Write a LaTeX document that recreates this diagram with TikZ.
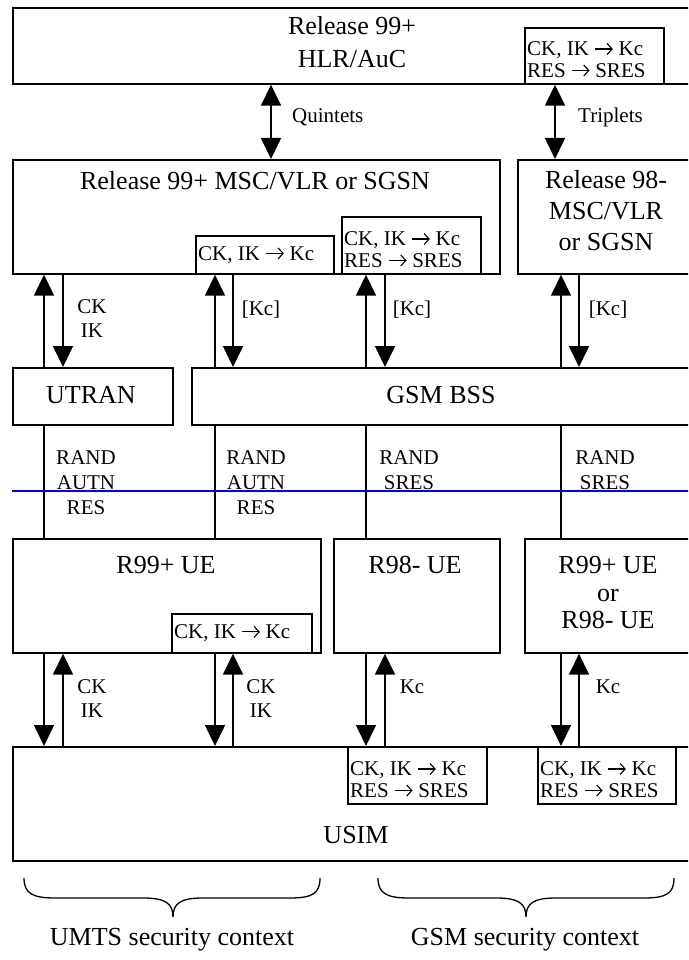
\documentclass[tikz,border=0pt]{standalone}
\usepackage{fontspec}
\setmainfont{Liberation Serif}
\usetikzlibrary{arrows.meta}
\newcommand\rar{\ \tikz[baseline=0pt]\draw[line width=1.1pt,-{Straight Barb[length=5pt,width=11pt,line width=1.1pt]}] (0pt,6.8pt) -- (18pt,6.8pt);\ }
\begin{document}
\begin{tikzpicture}[x=1pt,y=-1pt,
  box/.style={draw, line width=1.7pt, rectangle, inner sep=0pt, anchor=north west},
  kbox/.style={draw, line width=1.7pt, fill=white, rectangle, inner sep=0pt, anchor=north west},
  ktext/.style={font=\fontsize{21}{21.5}\selectfont, align=left, inner sep=0pt},
  big/.style={font=\fontsize{26}{31}\selectfont, align=center, inner sep=0pt},
  lab/.style={font=\fontsize{21}{24}\selectfont, align=center, inner sep=0pt},
  conn/.style={line width=1.6pt},
  arr/.style={conn, -{Triangle[length=21pt,width=20pt]}},
  darr/.style={conn, {Triangle[length=21pt,width=20pt]}-{Triangle[length=21pt,width=20pt]}},
  bracestyle/.style={line width=1.3pt},
]
\useasboundingbox (0,0) rectangle (688,960);
\clip (0,0) rectangle (688,960);

% ---- HLR ----
\node[box, minimum width=683pt, minimum height=76pt] (hlr) at (12,7) {};
\node[big, font=\fontsize{26}{33}\selectfont] (hlrt) at (352,42) {Release 99+\\HLR/AuC};
\node[kbox, minimum width=139pt, minimum height=56pt] (hlrk) at (524,27) {};
\node[ktext, anchor=south west] (hlrkt) at ([shift={(3,-7)}]hlrk.south west) {CK, IK\rar Kc\\RES\rar SRES};

% ---- serving nodes ----
\node[box, minimum width=487pt, minimum height=114pt] (msc) at (12,159) {};
\node[big] (msct) at (255,181) {Release 99+ MSC/VLR or SGSN};
\node[kbox, minimum width=138pt, minimum height=38pt] (msck1) at (195,235) {};
\node[ktext, anchor=west] (msck1t) at ([xshift=3]msck1.west) {CK, IK\rar Kc};
\node[kbox, minimum width=139pt, minimum height=57pt] (msck2) at (341,216) {};
\node[ktext, anchor=south west] (msck2t) at ([shift={(3,-7)}]msck2.south west) {CK, IK\rar Kc\\RES\rar SRES};

\node[box, minimum width=178pt, minimum height=114pt] (msc98) at (517,159) {};
\node[big] (msc98t) at (606,211) {Release 98-\\MSC/VLR\\or SGSN};

% ---- access ----
\node[box, minimum width=160pt, minimum height=57pt] (utran) at (12,367) {};
\node[big] (utrant) at (91,395) {UTRAN};
\node[box, minimum width=504pt, minimum height=57pt] (bss) at (191,367) {};
\node[big] (bsst) at (441,395) {GSM BSS};

% ---- UEs ----
\node[box, minimum width=308pt, minimum height=114pt] (ue) at (12,538) {};
\node[big] (uet) at (166,565) {R99+ UE};
\node[kbox, minimum width=140pt, minimum height=39pt] (uek) at (171,613) {};
\node[ktext, anchor=west] (uekt) at ([xshift=3]uek.west) {CK, IK\rar Kc};
\node[box, minimum width=166pt, minimum height=114pt] (ue98) at (333,538) {};
\node[big] (ue98t) at (415,565) {R98- UE};
\node[box, minimum width=171pt, minimum height=114pt] (ue3) at (524,538) {};
\node[big, font=\fontsize{26}{27.5}\selectfont] (ue3t) at (608,593) {R99+ UE\\or\\R98- UE};

% ---- USIM ----
\node[box, minimum width=683pt, minimum height=114pt] (usim) at (12,746) {};
\node[big] (usimt) at (356,835) {USIM};
\node[kbox, minimum width=139pt, minimum height=57pt] (usimk1) at (347,746) {};
\node[ktext, anchor=south west] (usimk1t) at ([shift={(3,-7)}]usimk1.south west) {CK, IK\rar Kc\\RES\rar SRES};
\node[kbox, minimum width=138pt, minimum height=57pt] (usimk2) at (537,746) {};
\node[ktext, anchor=south west] (usimk2t) at ([shift={(3,-7)}]usimk2.south west) {CK, IK\rar Kc\\RES\rar SRES};

% ---- columns ----
\coordinate (q) at (271,0);
\coordinate (t) at (555,0);
\coordinate (c1) at (44,0);  \coordinate (c1b) at (63,0);
\coordinate (c2) at (215,0); \coordinate (c2b) at (233,0);
\coordinate (c3) at (366,0); \coordinate (c3b) at (385,0);
\coordinate (c4) at (561,0); \coordinate (c4b) at (579,0);

% ---- HLR <-> serving nodes ----
\draw[darr] (hlr.south -| q) -- (msc.north -| q);
\draw[darr] (hlrk.south -| t) -- (msc98.north -| t);
\node[lab, anchor=west] (quint) at (292,117) {Quintets};
\node[lab, anchor=west] (trip) at (578,117) {Triplets};

% ---- serving nodes <-> access ----
\draw[arr] (utran.north -| c1) -- (msc.south -| c1);
\draw[arr] (msc.south -| c1b) -- (utran.north -| c1b);
\draw[arr] (bss.north -| c2) -- (msck1.south -| c2);
\draw[arr] (msck1.south -| c2b) -- (bss.north -| c2b);
\draw[arr] (bss.north -| c3) -- (msck2.south -| c3);
\draw[arr] (msck2.south -| c3b) -- (bss.north -| c3b);
\draw[arr] (bss.north -| c4) -- (msc98.south -| c4);
\draw[arr] (msc98.south -| c4b) -- (bss.north -| c4b);
\node[lab] (l1) at (92,319) {CK\\IK};
\node[lab] (l2) at (261,310) {[Kc]};
\node[lab] (l3) at (412,310) {[Kc]};
\node[lab] (l4) at (608,310) {[Kc]};

% ---- access <-> UE ----
\draw[conn] (utran.south -| c1) -- (ue.north -| c1);
\draw[conn] (bss.south -| c2) -- (ue.north -| c2);
\draw[conn] (bss.south -| c3) -- (ue98.north -| c3);
\draw[conn] (bss.south -| c4) -- (ue3.north -| c4);
\node[lab, font=\fontsize{21}{25}\selectfont] (r1) at (86,483) {RAND\\AUTN\\RES};
\node[lab, font=\fontsize{21}{25}\selectfont] (r2) at (256,483) {RAND\\AUTN\\RES};
\node[lab, font=\fontsize{21}{25}\selectfont] (r3) at (409,470) {RAND\\SRES};
\node[lab, font=\fontsize{21}{25}\selectfont] (r4) at (605,470) {RAND\\SRES};

% ---- UE <-> USIM ----
\draw[arr] (ue.south -| c1) -- (usim.north -| c1);
\draw[arr] (usim.north -| c1b) -- (ue.south -| c1b);
\draw[arr] (uek.south -| c2) -- (usim.north -| c2);
\draw[arr] (usim.north -| c2b) -- (uek.south -| c2b);
\draw[arr] (ue98.south -| c3) -- (usimk1.north -| c3);
\draw[arr] (usimk1.north -| c3b) -- (ue98.south -| c3b);
\draw[arr] (ue3.south -| c4) -- (usimk2.north -| c4);
\draw[arr] (usimk2.north -| c4b) -- (ue3.south -| c4b);
\node[lab] (u1) at (92,699) {CK\\IK};
\node[lab] (u2) at (261,699) {CK\\IK};
\node[lab] (u3) at (412,687) {Kc};
\node[lab] (u4) at (608,687) {Kc};

% ---- blue line ----
\coordinate (bl) at (12,491);
\coordinate (br) at (700,491);
\draw[blue, line width=1.6pt] (bl) -- (br);

% ---- braces ----
\draw[bracestyle] (24,878) .. controls (24,893) and (32,898) .. (55,898) -- (143,898)
  .. controls (165,898) and (173,903) .. (173,917)
  .. controls (173,903) and (181,898) .. (203,898) -- (290,898)
  .. controls (313,898) and (320,893) .. (320,878);
\draw[bracestyle] (378,878) .. controls (378,893) and (386,898) .. (409,898) -- (496,898)
  .. controls (518,898) and (526,903) .. (526,917)
  .. controls (526,903) and (534,898) .. (556,898) -- (644,898)
  .. controls (667,898) and (674,893) .. (674,878);
\node[big] (umts) at (172,940) {UMTS security context};
\node[big] (gsm) at (525,940) {GSM security context};
\end{tikzpicture}
\end{document}
